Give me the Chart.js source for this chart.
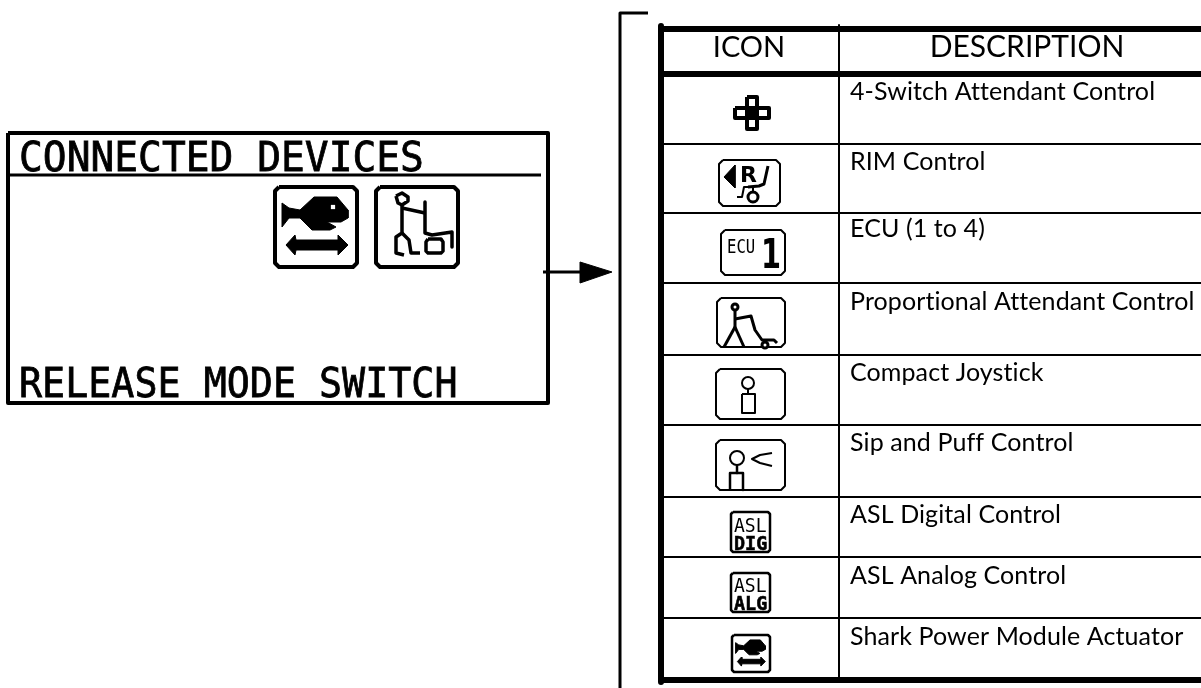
<!DOCTYPE html>
<html>
<head>
<meta charset="utf-8">
<style>
  html, body { margin: 0; padding: 0; background: #fff; overflow: hidden; }
  canvas { display: block; }
</style>
<script src="https://cdn.jsdelivr.net/npm/chart.js@4"></script>
</head>
<body>
<canvas id="panel" width="1201" height="688"></canvas>
<script>
// Table contents
const tableHeaders = ['ICON', 'DESCRIPTION'];
const descriptions = [
  '4-Switch Attendant Control', 'RIM Control', 'ECU (1 to 4)',
  'Proportional Attendant Control', 'Compact Joystick', 'Sip and Puff Control',
  'ASL Digital Control', 'ASL Analog Control', 'Shark Power Module Actuator'
];
const descBaselines = [100, 170, 237, 310, 381, 451, 523, 584, 645];
const rowLines = [144, 213, 283, 355, 425, 497, 557, 618];

// LCD screen texts
const screenTop = 'CONNECTED DEVICES';
const screenBottom = 'RELEASE MODE SWITCH';

// Frames: x0, y0, x1, y1
const bigFrames = [[275, 187, 357, 267], [376, 187, 458, 267]];
const iconFrames = [
  [719, 160, 780, 206], [721, 230, 785, 275], [717, 298, 785, 347],
  [716, 369, 785, 419], [716, 440, 785, 490]
];
const smallFrames = [[731, 512, 770, 552], [731, 573, 770, 612], [732, 635, 770, 672]];

// Shark outline, local to a 84x82 icon
const sharkBody = [[8,17],[15,22],[26,24],[40,11],[63,11],[74,24],[74,32],[67,36],[53,36],[62,41],[56,44],[38,44],[26,32],[15,32],[8,41]];
const sharkArrow = [[12,59],[21,49],[22,54],[64,54],[64,49],[74,59],[64,69],[64,64],[22,64],[21,69]];

// Big attendant icon
const bigHead = [[396,196],[402,193],[408,197],[408,201],[402,205],[398,203]];
const bigBody = [[402,205],[402,233],[396,237],[396,253],[404,255]];
const bigLeg = [[402,233],[409,240],[411,253],[420,253]];
const bigArm = [[402,208],[425,213]];
const bigChair = [[425,202],[425,233],[432,235],[452,232],[452,247]];
const bigWheel = [[428,239],[441,239],[443,242],[443,251],[441,253],[428,253],[426,251],[426,242]];

// Table icons
const crossV = [[747,97],[757,97],[757,129],[747,129]];
const crossH = [[735,108],[769,108],[769,118],[735,118]];
const crossCore = [[747,108],[757,108],[757,118],[747,118]];
const rimArrow = [[724,177],[735,165],[735,188]];
const rimLine = [[768,166],[764,184],[759,186],[748,187]];
const rimStep = [[737,197],[742,197],[744,187],[753,187],[753,192]];
const attBody = [[735,310],[735,327]];
const attLegL = [[735,327],[724,347]];
const attLegR = [[735,327],[744,347]];
const attArm = [[735,319],[751,316],[755,330],[762,340],[774,340],[777,343]];
const joyStem = [[748,389],[748,394]];
const joyBody = [[742,394],[755,394],[755,413],[742,413]];
const sipBody = [[730,490],[730,473],[743,473],[743,490]];
const sipNeck = [[737,465],[737,473]];
const sipMouth = [[772,453],[760,455],[752,459],[760,463],[772,466]];

// Round marks: x, y, radius, ring width
const hollowDots = [
  [753, 197, 5, 3], [735, 307, 3, 3], [765, 345, 3, 3], [748, 383, 6, 2], [737, 458, 7, 2]
];

function points(list) {
  return list.map(p => ({ x: p[0], y: p[1] }));
}

function closed(list) {
  return list.concat([list[0]]);
}

// Outline with cut corners, like the LCD icons
function frame(f, c) {
  return [
    [f[0] + c, f[1]], [f[2] - c, f[1]], [f[2], f[1] + c], [f[2], f[3] - c],
    [f[2] - c, f[3]], [f[0] + c, f[3]], [f[0], f[3] - c], [f[0], f[1] + c], [f[0] + c, f[1]]
  ];
}

function place(list, ox, oy, k) {
  return list.map(p => [ox + p[0] * k, oy + p[1] * k]);
}

function line(list, width) {
  return {
    data: points(list), showLine: true, borderColor: '#000', borderWidth: width,
    pointRadius: 0, tension: 0, fill: false, clip: false, borderJoinStyle: 'round'
  };
}

function solid(list) {
  return {
    data: points(closed(list)), showLine: true, borderColor: '#000', borderWidth: 1,
    backgroundColor: '#000', pointRadius: 0, tension: 0, fill: 'shape', clip: false
  };
}

const datasets = [];

// Bracket and arrow
datasets.push(line([[648, 13], [620, 13], [620, 688]], 3));
datasets.push(line([[543, 272], [585, 272]], 3));
datasets.push(solid([[580, 262], [612, 272], [580, 283]]));

// Screen
datasets.push(line(closed([[8, 133], [548, 133], [548, 403], [8, 403]]), 4));
datasets.push(line([[10, 175], [541, 175]], 3));

// Table
datasets.push(line([[659, 29], [1201, 29]], 6));
datasets.push(line([[661, 26], [661, 682]], 6));
datasets.push(line([[659, 74], [1201, 74]], 6));
datasets.push(line([[659, 680], [1201, 680]], 6));
datasets.push(line([[839, 25], [839, 678]], 2));
rowLines.forEach(y => datasets.push(line([[664, y], [1201, y]], 2)));

// Icon frames
bigFrames.forEach(f => datasets.push(line(frame(f, 4), 4)));
iconFrames.forEach(f => datasets.push(line(frame(f, 4), 2)));
smallFrames.forEach(f => datasets.push(line(frame(f, 2), 2.5)));

// Shark, large and small
datasets.push(solid(place(sharkBody, 274, 186, 1)));
datasets.push(solid(place(sharkArrow, 274, 186, 1)));
datasets.push(solid(place(sharkBody, 732, 635, 0.45)));
datasets.push(solid(place(sharkArrow, 732, 635, 0.45)));

// Large attendant
datasets.push(line(closed(bigHead), 3.5));
[bigBody, bigLeg, bigArm, bigChair].forEach(l => datasets.push(line(l, 3.5)));
datasets.push(line(closed(bigWheel), 3.5));

// Cross
datasets.push(line(closed(crossV), 4));
datasets.push(line(closed(crossH), 4));
datasets.push(solid(crossCore));

// RIM
datasets.push(solid(rimArrow));
datasets.push(line(rimLine, 3));
datasets.push(line(rimStep, 2));

// Attendant in the table
datasets.push(line(attBody, 3));
datasets.push(line(attLegL, 3));
datasets.push(line(attLegR, 3));
datasets.push(line(attArm, 3));

// Joystick and sip and puff
datasets.push(line(joyStem, 2));
datasets.push(line(closed(joyBody), 2));
datasets.push(line(sipBody, 2.5));
datasets.push(line(sipNeck, 2.5));
datasets.push(line(sipMouth, 2));

// Round marks on top
hollowDots.forEach(d => {
  datasets.push({
    data: points([d]), showLine: false, pointRadius: d[2], pointStyle: 'circle',
    pointBackgroundColor: '#fff', pointBorderColor: '#000', pointBorderWidth: d[3], clip: false
  });
});
// Shark eye
datasets.push({
  data: points([[333, 207]]), showLine: false, pointRadius: 3, pointStyle: 'rect',
  pointBackgroundColor: '#fff', pointBorderWidth: 0, clip: false
});

// Chart.js paints the first dataset last, the list above is bottom to top
datasets.reverse();

// squeeze < 1 narrows the glyphs, the LCD fonts are tall and thin
function drawText(chart, text, x, y, font, opts) {
  const o = opts || {};
  const ctx = chart.ctx;
  ctx.save();
  ctx.font = font;
  ctx.textAlign = o.align || 'left';
  ctx.textBaseline = 'alphabetic';
  ctx.letterSpacing = (o.spacing || 0) + 'px';
  ctx.fillStyle = '#000';
  ctx.translate(chart.scales.x.getPixelForValue(x), chart.scales.y.getPixelForValue(y));
  ctx.scale(o.squeeze || 1, 1);
  ctx.fillText(text, 0, 0);
  if (o.heavy) {
    ctx.lineWidth = o.heavy;
    ctx.strokeStyle = '#000';
    ctx.strokeText(text, 0, 0);
  }
  ctx.restore();
}

const textPlugin = {
  id: 'panelText',
  afterDatasetsDraw(chart) {
    const lcd = '"DejaVu Sans Mono"';
    drawText(chart, screenTop, 19, 171, '41px ' + lcd, { squeeze: 0.965, heavy: 0.8 });
    drawText(chart, screenBottom, 19, 397, '41px ' + lcd, { squeeze: 0.935, heavy: 0.8 });

    drawText(chart, tableHeaders[0], 749, 57, '29px Lato', { align: 'center' });
    drawText(chart, tableHeaders[1], 1027, 57, '30px Lato', { align: 'center' });
    descriptions.forEach((d, i) => drawText(chart, d, 850, descBaselines[i], '25px Lato', { spacing: 0.1 }));

    drawText(chart, 'R', 740, 182, 'bold 22px "DejaVu Sans"');
    drawText(chart, 'ECU', 727, 253, '20px ' + lcd, { squeeze: 0.78 });
    drawText(chart, '1', 761, 268, 'bold 40px "DejaVu Sans"', { squeeze: 0.72 });
    drawText(chart, 'ASL', 734, 532, '19px ' + lcd, { squeeze: 0.95 });
    drawText(chart, 'DIG', 734, 550, 'bold 20px ' + lcd, { squeeze: 0.92, heavy: 0.6 });
    drawText(chart, 'ASL', 734, 592, '19px ' + lcd, { squeeze: 0.95 });
    drawText(chart, 'ALG', 734, 610, 'bold 20px ' + lcd, { squeeze: 0.92, heavy: 0.6 });
  }
};

new Chart(document.getElementById('panel'), {
  type: 'scatter',
  data: { datasets },
  plugins: [textPlugin],
  options: {
    responsive: false,
    animation: false,
    layout: { padding: 0, autoPadding: false },
    plugins: { legend: { display: false }, tooltip: { enabled: false } },
    scales: {
      x: { type: 'linear', min: 0, max: 1201, display: false },
      y: { type: 'linear', min: 0, max: 688, reverse: true, display: false }
    }
  }
});
</script>
</body>
</html>
